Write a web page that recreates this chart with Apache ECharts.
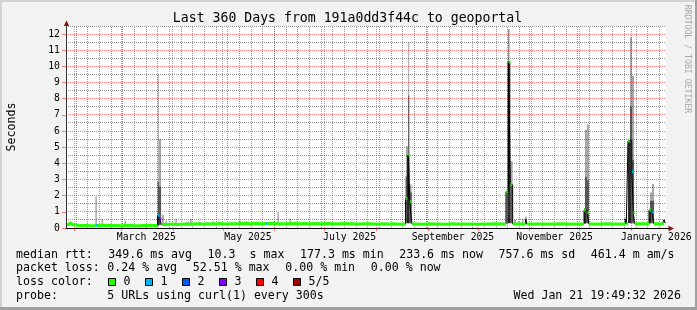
<!DOCTYPE html>
<html>
<head>
<meta charset="utf-8">
<script src="https://cdn.jsdelivr.net/npm/echarts@6/dist/echarts.min.js"></script>
<style>
  html, body { margin: 0; padding: 0; background: #f2f2f2; }
  #chart { width: 697px; height: 310px; }
</style>
</head>
<body>
<div id="chart"></div>
<script>
// x values are days since the start of the 360 day window
const endTime = Date.UTC(2026, 0, 21, 19, 49, 32);
const startTime = endTime - 360 * 86400000;
function dayOf(s) { return (Date.parse(s + 'T00:00:00Z') - startTime) / 86400000; }

const monthStarts = ['2025-02-01', '2025-03-01', '2025-04-01', '2025-05-01', '2025-06-01', '2025-07-01',
                     '2025-08-01', '2025-09-01', '2025-10-01', '2025-11-01', '2025-12-01', '2026-01-01'];
const monthLabels = ['March 2025', 'May 2025', 'July 2025', 'September 2025', 'November 2025', 'January 2026'];
const monthLabelDates = ['2025-03-16', '2025-05-16', '2025-07-16', '2025-09-16', '2025-11-16', '2026-01-16'];
const firstSunday = '2025-02-02';
const yTicks = [0, 1, 2, 3, 4, 5, 6, 7, 8, 9, 10, 11, 12];
const lossColors = ['#26ff00', '#00b8ff', '#0059ff', '#7e00ff', '#ff0000', '#a10000'];
const lossNames = ['0', '1', '2', '3', '4', '5/5'];

// smoke: [dayFrom, dayTo, low, high] in seconds
const smokeLight = [
  [17.6, 18.5, 0.15, 1.95], [21.3, 22.2, 0.2, 0.55], [35.1, 36.0, 0.2, 0.45],
  [55.1, 55.7, 0.2, 9.5], [55.7, 57.1, 0.2, 5.5], [57.6, 58.8, 0.25, 0.82], [59.6, 60.5, 0.25, 0.45],
  [65.6, 66.5, 0.25, 0.57], [72.0, 73.8, 0.25, 0.38], [74.4, 75.4, 0.25, 0.57], [79.8, 81.0, 0.28, 0.38],
  [87.9, 88.8, 0.28, 0.42], [103.8, 105.0, 0.28, 0.45], [106.8, 109.8, 0.28, 0.4],
  [126.8, 127.7, 0.3, 0.98], [134.0, 134.9, 0.3, 0.57], [137.7, 138.6, 0.3, 0.4],
  [204.0, 205.3, 0.3, 5.06], [205.3, 205.95, 0.3, 11.5], [205.95, 207.4, 0.3, 2.7],
  [263.9, 265.1, 0.3, 2.3], [266.6, 268.0, 0.3, 4.14],
  [268.8, 270.0, 0.3, 0.5], [271.2, 272.1, 0.3, 0.42], [273.6, 274.5, 0.3, 0.55], [275.4, 276.5, 0.3, 0.7],
  [311.4, 312.6, 0.3, 6.1], [312.6, 313.8, 0.3, 6.4],
  [326.1, 327.0, 0.28, 0.39], [335.1, 336.0, 0.3, 0.62],
  [338.4, 339.6, 0.3, 11.8], [339.6, 340.8, 0.3, 9.4],
  [350.4, 351.6, 0.3, 2.2], [351.6, 352.8, 0.3, 2.72],
  [358.5, 359.4, 0.3, 0.54]
];
const smokeMid = [
  [55.0, 55.8, 0.2, 2.85], [55.8, 57.0, 0.2, 2.55],
  [203.7, 205.3, 0.3, 3.2], [205.3, 205.95, 0.3, 8.2], [205.95, 207.4, 0.3, 2.2],
  [265.4, 266.0, 0.3, 12.3], [266.6, 268.0, 0.3, 2.7],
  [311.4, 312.6, 0.3, 3.17], [312.6, 313.8, 0.3, 2.96],
  [338.4, 339.6, 0.3, 7.5], [339.6, 340.8, 0.3, 4.2],
  [350.4, 352.8, 0.3, 1.69]
];
const smokeDark = [
  [54.9, 55.9, 0.15, 0.8],
  [204.6, 205.95, 0.3, 4.5],
  [264.9, 266.6, 0.3, 10.3],
  [310.8, 312.0, 0.3, 1.2],
  [337.2, 339.0, 0.3, 5.43],
  [349.8, 351.0, 0.3, 1.1]
];

// median rtt: [day, seconds, lost pings]
const median = [
  [0, 0.22, 0], [1.8, 0.2, 0], [2.7, 0.35, 0], [3.6, 0.22, 0], [4.8, 0.15, 0], [8.4, 0.16, 0],
  [12, 0.14, 0], [15.6, 0.16, 0], [18, 0.15, 1], [18.9, 0.17, 0], [22.8, 0.15, 0], [26.4, 0.16, 0],
  [30, 0.14, 0], [33.6, 0.17, 0], [37.2, 0.15, 0], [40.8, 0.14, 0], [44.4, 0.17, 0], [48, 0.15, 0],
  [51.6, 0.16, 0], [54.9, 0.78, 1], [56.1, 0.55, 3], [57.3, 0.22, 0], [60, 0.24, 0], [63.6, 0.22, 0],
  [67.2, 0.25, 0], [70.8, 0.23, 0], [74.4, 0.26, 0], [78, 0.24, 0], [81.6, 0.27, 0], [85.2, 0.25, 0],
  [88.8, 0.28, 0], [92.4, 0.25, 0], [96, 0.27, 0], [99.6, 0.26, 0], [103.2, 0.28, 0], [106.8, 0.27, 0],
  [110.4, 0.29, 0], [114, 0.27, 0], [117.6, 0.28, 0], [119.7, 0.27, 1], [120.6, 0.28, 0], [124.8, 0.27, 0],
  [126.9, 0.38, 0], [127.8, 0.27, 0], [132, 0.28, 0], [135.6, 0.26, 0], [139.2, 0.28, 0], [142.8, 0.27, 0],
  [146.4, 0.28, 0], [150, 0.26, 0], [153.6, 0.28, 0], [157.2, 0.27, 0], [160.8, 0.26, 0], [164.4, 0.28, 0],
  [168, 0.27, 0], [171.6, 0.25, 0], [175.2, 0.27, 0], [178.8, 0.26, 0], [182.4, 0.24, 0], [186, 0.27, 0],
  [189.6, 0.25, 0], [193.2, 0.26, 0], [196.8, 0.23, 0], [200.4, 0.25, 0],
  [203.7, 1.83, 0], [205.4, 4.5, 0], [206.3, 1.62, 0], [207.5, 0.25, 0],
  [210, 0.23, 0], [213.6, 0.26, 0], [217.2, 0.24, 0], [220.8, 0.25, 0], [224.4, 0.23, 0], [228, 0.26, 0],
  [231.6, 0.24, 0], [234.6, 0.3, 0], [235.8, 0.24, 0], [240, 0.25, 0], [243.6, 0.23, 0], [247.2, 0.25, 0],
  [250.8, 0.24, 0], [254.4, 0.26, 0], [258, 0.24, 0], [261.6, 0.25, 0],
  [264, 2.24, 0], [265.5, 10.27, 0], [266.6, 2.68, 0], [268, 0.25, 0],
  [271.2, 0.24, 0], [273.6, 0.26, 0], [275.8, 0.55, 0], [276.5, 0.24, 0], [279.6, 0.25, 0], [283.2, 0.24, 0],
  [285.9, 0.3, 0], [286.8, 0.25, 0], [290.4, 0.24, 0], [294, 0.26, 0], [297.6, 0.25, 0], [301.2, 0.24, 0],
  [305.1, 0.3, 0], [306.3, 0.25, 0], [309, 0.24, 0],
  [310.8, 1.11, 0], [312.8, 0.95, 0], [313.7, 0.25, 0],
  [316.8, 0.24, 0], [320.4, 0.26, 0], [324, 0.25, 0], [326.1, 0.31, 0], [327.3, 0.25, 0], [331.2, 0.24, 0],
  [333.6, 0.26, 0], [335.6, 0.55, 0], [336.2, 0.26, 0],
  [337.2, 5.39, 0], [339.5, 3.48, 1], [340.4, 0.95, 0], [341.2, 0.27, 0],
  [344.4, 0.26, 0], [347.4, 0.27, 0],
  [349.8, 1.11, 0], [351.5, 1.0, 1], [352.7, 0.27, 0],
  [355.2, 0.25, 0], [357.6, 0.27, 0], [358.8, 0.5, 0], [359.6, 0.3, 0], [360, 0.3, 0]
];

const mono = 'DejaVu Sans Mono';
const chart = echarts.init(document.getElementById('chart'));

const red = 'rgba(255,0,0,0.5)';
const gray = 'rgba(0,0,0,0.42)';

// green median: only the low values, held until the next sample
const greenPts = [];
median.forEach((p, i) => {
  const next = median[i + 1];
  if (p[1] < 0.45) {
    greenPts.push([p[0], p[1]]);
    if (next) greenPts.push([next[0], p[1]]);
    if (next && next[1] >= 0.45) greenPts.push([next[0], '-']);
  }
});
const dots = median.filter(p => p[1] >= 0.7 || p[2] > 0)
  .map(p => ({value: [p[0] + 0.6, p[1]], itemStyle: {color: lossColors[p[2]]}}));

function bandSeries(data, color, z) {
  return {
    type: 'custom', data: data, z: z, silent: true, clip: true,
    encode: {x: [0, 1], y: [2, 3]},
    renderItem: function (params, api) {
      const a = api.coord([api.value(0), api.value(3)]);
      const b = api.coord([api.value(1), api.value(2)]);
      return {type: 'rect', shape: {x: a[0], y: a[1], width: Math.max(b[0] - a[0], 1), height: b[1] - a[1]},
              style: {fill: color}};
    }
  };
}

const labelDays = monthLabelDates.map(dayOf);

// legend texts
const lines = [
  [['median rtt:', 16], ['349.6 ms avg', 108.3], ['10.3  s max', 207.6], ['177.3 ms min', 300],
   ['233.6 ms now', 399.2], ['757.6 ms sd', 498.5], ['461.4 m am/s', 590.8]],
  [['packet loss:', 16], ['0.24 % avg', 107.3], ['52.51 % max', 192.8], ['0.00 % min', 285.3], ['0.00 % now', 370.8]],
  [['loss color:', 16]],
  [['probe:', 16], ['5 URLs using curl(1) every 300s', 107.3]]
];
const lineY = [254.5, 268.3, 282, 295.8];
const graphics = [
  {type: 'rect', shape: {x: 0, y: 0, width: 697, height: 2}, style: {fill: '#d2d2d2'}, silent: true},
  {type: 'rect', shape: {x: 0, y: 0, width: 2, height: 310}, style: {fill: '#d2d2d2'}, silent: true},
  {type: 'rect', shape: {x: 0, y: 307, width: 697, height: 3}, style: {fill: '#a0a0a0'}, silent: true},
  {type: 'rect', shape: {x: 695, y: 0, width: 2, height: 310}, style: {fill: '#a0a0a0'}, silent: true},
  {type: 'text', x: 347.5, y: 19, silent: true,
   style: {text: 'Last 360 Days from 191a0dd3f44c to geoportal', font: '13.2px "' + mono + '"',
           fill: '#000', align: 'center', verticalAlign: 'middle'}},
  {type: 'text', x: 687, y: 59, rotation: -Math.PI / 2, silent: true,
   style: {text: 'RRDTOOL / TOBI OETIKER', font: '8.2px "' + mono + '"', fill: '#a8a8a8',
           align: 'center', verticalAlign: 'middle'}},
  {type: 'polygon', shape: {points: [[66.5, 20.5], [63.8, 26], [69.2, 26]]}, style: {fill: '#8b1010'}, silent: true},
  {type: 'line', shape: {x1: 666, y1: 228.5, x2: 669, y2: 228.5}, style: {stroke: '#000', lineWidth: 1}, silent: true},
  {type: 'polygon', shape: {points: [[674, 228.5], [668.5, 225.8], [668.5, 231.2]]}, style: {fill: '#8b1010'}, silent: true},
  {type: 'text', x: 681, y: lineY[3], silent: true,
   style: {text: 'Wed Jan 21 19:49:32 2026', font: '11.6px "' + mono + '"', fill: '#000',
           align: 'right', verticalAlign: 'middle'}}
];
lines.forEach((row, r) => row.forEach(([t, x]) => graphics.push({
  type: 'text', x: x, y: lineY[r], silent: true,
  style: {text: t, font: '11.6px "' + mono + '"', fill: '#000', verticalAlign: 'middle'}
})));
lossColors.forEach((c, i) => {
  const x = 108.5 + i * 37;
  graphics.push({type: 'rect', shape: {x: x, y: 278.5, width: 7, height: 7},
                 style: {fill: c, stroke: '#000', lineWidth: 1}, silent: true});
  graphics.push({type: 'text', x: x + 15, y: lineY[2], silent: true,
                 style: {text: lossNames[i], font: '11.6px "' + mono + '"', fill: '#000', verticalAlign: 'middle'}});
});

const option = {
  animation: false,
  backgroundColor: '#f2f2f2',
  grid: {left: 66, width: 600, top: 26, height: 202, show: true, backgroundColor: '#fff', borderWidth: 0,
         outerBoundsMode: 'none', containLabel: false},
  xAxis: {
    type: 'value', min: 0, max: 360, z: 10,
    axisLine: {show: true, onZero: false, lineStyle: {color: '#000', width: 1}},
    axisTick: {show: true, customValues: monthStarts.map(dayOf), length: 3, lineStyle: {color: red}},
    axisLabel: {
      customValues: labelDays, margin: 4, fontFamily: mono, fontSize: 9.8, color: '#000',
      formatter: v => {
        let best = 0;
        labelDays.forEach((d, i) => { if (Math.abs(d - v) < Math.abs(labelDays[best] - v)) best = i; });
        return monthLabels[best];
      }
    },
    splitLine: {show: false}
  },
  yAxis: {
    type: 'value', min: 0, max: 12.5, interval: 1, z: 10,
    name: 'Seconds', nameLocation: 'middle', nameRotate: 90, nameGap: 48,
    nameTextStyle: {fontFamily: mono, fontSize: 11.6, color: '#000'},
    axisLine: {show: true, lineStyle: {color: '#333', width: 1}},
    axisTick: {show: true, customValues: yTicks, length: 4, lineStyle: {color: red}},
    axisLabel: {customValues: yTicks, margin: 6, fontFamily: mono, fontSize: 9.8, color: '#000'},
    splitLine: {show: false}
  },
  graphic: graphics,
  series: [
    {
      type: 'line', data: [[0, 0]], z: 1, silent: true, showSymbol: false, lineStyle: {opacity: 0},
      markLine: {silent: true, symbol: 'none', animation: false, label: {show: false}, data: []}
    },
    bandSeries(smokeLight, '#a8a8a8', 2),
    bandSeries(smokeMid, '#585858', 3),
    bandSeries(smokeDark, '#2a2a2a', 4),
    {
      type: 'line', data: median.map(p => [p[0], p[1]]), step: 'end', z: 5, silent: true,
      showSymbol: false, lineStyle: {color: '#000', width: 1}
    },
    {
      type: 'line', data: greenPts, z: 6, silent: true, connectNulls: false,
      showSymbol: false, lineStyle: {color: lossColors[0], width: 3}
    },
    {
      type: 'scatter', data: dots, z: 7, silent: true, symbol: 'rect', symbolSize: [2, 3]
    }
  ]
};
chart.setOption(option);

// grid lines: months red, sundays gray, seconds red, half seconds gray;
// each value is nudged onto a pixel centre so the dotted lines stay crisp
const snapX = d => chart.convertFromPixel({gridIndex: 0}, [Math.floor(chart.convertToPixel({gridIndex: 0}, [d, 0])[0]) + 0.5, 0])[0];
const snapY = v => chart.convertFromPixel({gridIndex: 0}, [0, Math.floor(chart.convertToPixel({gridIndex: 0}, [0, v])[1]) + 0.5])[1];
const dotted = c => ({color: c, type: [1, 1], width: 1});
const gridLines = [];
for (let t = Date.parse(firstSunday + 'T00:00:00Z'); t < endTime; t += 7 * 86400000) {
  gridLines.push({xAxis: snapX((t - startTime) / 86400000), lineStyle: dotted(gray)});
}
yTicks.forEach(v => gridLines.push({yAxis: snapY(v + 0.5), lineStyle: dotted(gray)}));
monthStarts.forEach(s => gridLines.push({xAxis: snapX(dayOf(s)), lineStyle: dotted(red)}));
yTicks.slice(1).forEach(v => gridLines.push({yAxis: snapY(v), lineStyle: dotted(red)}));
chart.setOption({series: [{markLine: {data: gridLines}}]});
</script>
</body>
</html>
